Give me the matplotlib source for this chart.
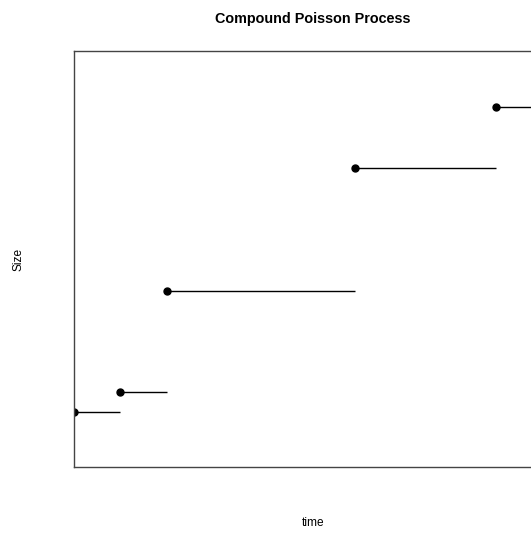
import numpy as np
import matplotlib.pyplot as plt

plt.rcParams['font.family'] = ['Liberation Sans', 'DejaVu Sans']

# jump times and cumulative sizes
jump_times = [0.0, 0.96, 1.95, 5.88, 8.83]
end_time = 10.0
sizes = [0.0, 1.0, 6.0, 12.1, 15.1]

fig = plt.figure(figsize=(5.31, 5.33), dpi=100)
# axes spans past the right edge, like the original
ax = fig.add_axes([74 / 531, 1 - 467 / 533, (552 - 74) / 531, (467 - 51) / 533])

starts = np.array(jump_times)
ends = np.append(starts[1:], end_time)
ax.hlines(sizes, starts, ends, colors='black', linewidth=1)
ax.plot(starts, sizes, 'o', color='black', markersize=5, clip_on=True)

ax.set_xlim(0, 10)
ax.set_ylim(-2.72, 17.87)
ax.set_xticks([])
ax.set_yticks([])
for side in ['left', 'top', 'bottom', 'right']:
    ax.spines[side].set_color('#444444')
    ax.spines[side].set_linewidth(1)

fig.text(313 / 531, 1 - 19 / 533, 'Compound Poisson Process', ha='center', va='center',
         fontsize=10.4, fontweight='bold')
fig.text(313 / 531, 1 - 523 / 533, 'time', ha='center', va='center', fontsize=8.6)
fig.text(18 / 531, 1 - 259 / 533, 'Size', ha='center', va='center', fontsize=8.6, rotation=90)

fig.savefig('out.png', dpi=100)
